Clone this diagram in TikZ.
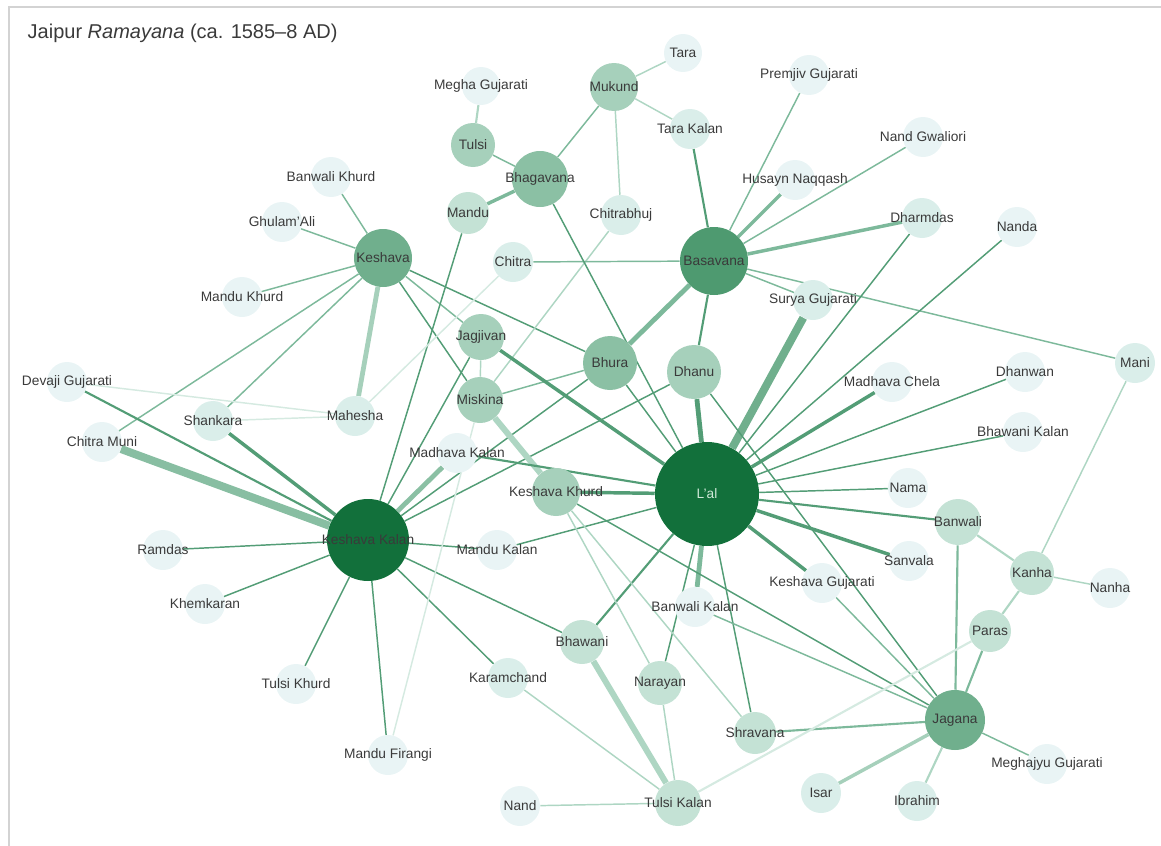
\documentclass[tikz,border=0pt]{standalone}
\usepackage{fontspec}
\setmainfont{Liberation Sans}
\usepackage{tikz}

\definecolor{g1}{HTML}{12703B}
\definecolor{g2}{HTML}{4E9A70}
\definecolor{g3}{HTML}{70AF8D}
\definecolor{g4}{HTML}{8BC0A4}
\definecolor{g5}{HTML}{A6D0BB}
\definecolor{g6}{HTML}{C4E2D5}
\definecolor{g7}{HTML}{DAEEEA}
\definecolor{g8}{HTML}{E9F4F5}
\definecolor{edk}{HTML}{539D76}
\definecolor{emd}{HTML}{7DB99B}
\definecolor{elt}{HTML}{AED6C3}
\definecolor{eft}{HTML}{D5EAE1}
\definecolor{lbl}{HTML}{3A3A3A}
\definecolor{lalt}{HTML}{CFE8D8}
\definecolor{frm}{HTML}{D3D3D3}

\newcommand{\lblfont}{\fontsize{10.3}{12}\selectfont}
\newcommand{\nm}[1]{\makebox[0pt]{#1}}

\pgfdeclarelayer{edges}
\pgfsetlayers{edges,main}

\begin{document}
\begin{tikzpicture}[x=0.75pt, y=-0.75pt,
	pers/.style={circle, inner sep=0pt, minimum size=#1*1.5pt, text=lbl, font=\lblfont},
	pers/.default=20,
	dk/.style={draw=edk, line width=1.1pt},
	md/.style={draw=emd, line width=1.1pt},
	lt/.style={draw=elt, line width=1.1pt},
	ft/.style={draw=eft, line width=1.1pt},
	w2/.style={line width=1.6pt},
	w3/.style={line width=2.6pt},
	w4/.style={line width=3.6pt},
	w6/.style={line width=6pt}]
	\useasboundingbox (0,0) rectangle (1161,846);
	\draw[frm, line width=1.5pt] (9,846) -- (9,7) -- (1161,7);
	\node[anchor=west, text=lbl, font=\fontsize{15}{18}\selectfont] (ttl) at (23,33) {Jaipur \textit{Ramayana} (ca. 1585--8 AD)};

	\node[pers=52, fill=g1, text=lalt] (lal) at (707,494) {\nm{L'al}};
	\node[pers=41, fill=g1] (kk) at (368,540) {\nm{Keshava Kalan}};
	\node[pers=34, fill=g2] (bas) at (714,261) {\nm{Basavana}};
	\node[pers=29, fill=g3] (kesh) at (383,258) {\nm{Keshava}};
	\node[pers=30, fill=g3] (jag) at (955,720) {\nm{Jagana}};
	\node[pers=28, fill=g4] (bhag) at (540,179) {\nm{Bhagavana}};
	\node[pers=27, fill=g4] (bhura) at (610,363) {\nm{Bhura}};
	\node[pers=27, fill=g5] (dhanu) at (694,372) {\nm{Dhanu}};
	\node[pers=23, fill=g5] (jagj) at (481,337) {\nm{Jagjivan}};
	\node[pers=23, fill=g5] (misk) at (480,400) {\nm{Miskina}};
	\node[pers=24, fill=g5] (mukund) at (614,87) {\nm{Mukund}};
	\node[pers=22, fill=g5] (tulsi) at (473,145) {\nm{Tulsi}};
	\node[pers=24, fill=g5] (kkh) at (556,492) {\nm{Keshava Khurd}};
	\node[pers=23, fill=g6] (banwali) at (958,522) {\nm{Banwali}};
	\node[pers=22, fill=g6] (kanha) at (1032,573) {\nm{Kanha}};
	\node[pers=22, fill=g6] (bhaw) at (582,642) {\nm{Bhawani}};
	\node[pers=23, fill=g6] (tk) at (678,803) {\nm{Tulsi Kalan}};
	\node[pers=22, fill=g6] (nar) at (660,683) {\nm{Narayan}};
	\node[pers=21, fill=g6] (mandu) at (468,213) {\nm{Mandu}};
	\node[pers=21, fill=g6] (paras) at (990,631) {\nm{Paras}};
	\node[pers=21, fill=g6] (shr) at (755,733) {\nm{Shravana}};

	\node[pers, fill=g7] (tarak) at (690,129) {\nm{Tara Kalan}};
	\node[pers, fill=g7] (chbhuj) at (621,215) {\nm{Chitrabhuj}};
	\node[pers, fill=g7] (chitra) at (513,262) {\nm{Chitra}};
	\node[pers, fill=g7] (mahesha) at (355,416) {\nm{Mahesha}};
	\node[pers, fill=g7] (shankara) at (213,421) {\nm{Shankara}};
	\node[pers, fill=g7] (surya) at (813,300) {\nm{Surya Gujarati}};
	\node[pers, fill=g7] (dharm) at (922,218) {\nm{Dharmdas}};
	\node[pers, fill=g7] (isar) at (821,793) {\nm{Isar}};
	\node[pers, fill=g7] (karam) at (508,678) {\nm{Karamchand}};
	\node[pers, fill=g7] (ibrahim) at (917,801) {\nm{Ibrahim}};
	\node[pers, fill=g7] (mani) at (1135,363) {\nm{Mani}};
	\node[pers, fill=g8] (bkal) at (695,607) {\nm{Banwali Kalan}};

	\node[pers, fill=g8] (madk) at (457,453) {\nm{Madhava Kalan}};
	\node[pers, fill=g8] (mkalan) at (497,550) {\nm{Mandu Kalan}};
	\node[pers=19, fill=g8] (tara) at (683,53) {\nm{Tara}};
	\node[pers=19, fill=g8] (megha) at (481,86) {\nm{Megha Gujarati}};
	\node[pers, fill=g8] (premjiv) at (809,75) {\nm{Premjiv Gujarati}};
	\node[pers, fill=g8] (nandg) at (923,137) {\nm{Nand Gwaliori}};
	\node[pers, fill=g8] (husayn) at (795,180) {\nm{Husayn Naqqash}};
	\node[pers, fill=g8] (nanda) at (1017,227) {\nm{Nanda}};
	\node[pers, fill=g8] (mchela) at (892,382) {\nm{Madhava Chela}};
	\node[pers, fill=g8] (dhanwan) at (1025,372) {\nm{Dhanwan}};
	\node[pers, fill=g8] (bkalan) at (1023,432) {\nm{Bhawani Kalan}};
	\node[pers, fill=g8] (nama) at (908,488) {\nm{Nama}};
	\node[pers, fill=g8] (sanvala) at (909,561) {\nm{Sanvala}};
	\node[pers, fill=g8] (kguj) at (822,583) {\nm{Keshava Gujarati}};
	\node[pers, fill=g8] (nanha) at (1110,588) {\nm{Nanha}};
	\node[pers, fill=g8] (meghaj) at (1047,764) {\nm{Meghajyu Gujarati}};
	\node[pers, fill=g8] (nand) at (520,806) {\nm{Nand}};
	\node[pers, fill=g8] (mfir) at (388,755) {\nm{Mandu Firangi}};
	\node[pers, fill=g8] (tkhurd) at (296,684) {\nm{Tulsi Khurd}};
	\node[pers, fill=g8] (khem) at (205,604) {\nm{Khemkaran}};
	\node[pers, fill=g8] (ramdas) at (163,550) {\nm{Ramdas}};
	\node[pers, fill=g8] (cmuni) at (102,442) {\nm{Chitra Muni}};
	\node[pers, fill=g8] (devaji) at (67,382) {\nm{Devaji Gujarati}};
	\node[pers, fill=g8] (mkhurd) at (242,297) {\nm{Mandu Khurd}};
	\node[pers, fill=g8] (ghulam) at (282,222) {\nm{Ghulam'Ali}};
	\node[pers, fill=g8] (bkhurd) at (331,177) {\nm{Banwali Khurd}};

	\begin{pgfonlayer}{edges}
		\draw[md] (kesh) -- (bkhurd) (kesh) -- (ghulam) (kesh) -- (mkhurd) (kesh) -- (cmuni) (kesh) -- (shankara) (kesh) -- (jagj);
		\draw[lt, w4, draw=g5] (kesh) -- (mahesha);
		\draw[dk] (kesh) -- (misk) (kesh) -- (bhura);

		\draw[md, w6, draw=g4!90!g3] (kk) -- (cmuni);
		\draw[md, w4, draw=g4] (kk) -- (madk);
		\draw[dk, w2] (kk) -- (devaji);
		\draw[dk, w3] (kk) -- (shankara);
		\draw[dk] (kk) -- (ramdas) (kk) -- (khem) (kk) -- (tkhurd) (kk) -- (mfir) (kk) -- (karam) (kk) -- (bhaw)
			(kk) -- (mkalan) (kk) -- (mandu) (kk) -- (jagj) (kk) -- (bhura) (kk) -- (dhanu);

		\draw[lt] (misk) -- (jagj) (misk) -- (chbhuj);
		\draw[ft] (misk) -- (mfir) (chitra) -- (mahesha) (devaji) -- (mahesha) (shankara) -- (mahesha);
		\draw[md] (misk) -- (bhura) (chitra) -- (bas);
		\draw[lt, w4, line width=4.5pt] (misk) -- (kkh);

		\draw[md, w3] (mandu) -- (bhag);
		\draw[md] (tulsi) -- (bhag) (bhag) -- (mukund);
		\draw[lt, w2] (tulsi) -- (megha);
		\draw[lt] (mukund) -- (tara) (mukund) -- (tarak) (mukund) -- (chbhuj);
		\draw[dk, w2] (tarak) -- (bas);

		\draw[md] (bas) -- (premjiv) (bas) -- (nandg) (bas) -- (surya) (bas) -- (mani);
		\draw[md, w3] (bas) -- (husayn) (bas) -- (dharm);
		\draw[md, w4] (bas) -- (bhura);
		\draw[dk, w2] (bas) -- (dhanu);

		\draw[md, w6, draw=g3] (lal) -- (surya);
		\draw[dk, w4] (lal) -- (dhanu);
		\draw[dk, w3] (lal) -- (jagj) (lal) -- (kkh) (lal) -- (mchela) (lal) -- (sanvala) (lal) -- (kguj);
		\draw[dk, w2] (lal) -- (banwali) (lal) -- (bhaw) (lal) -- (madk);
		\draw[md, w4] (lal) -- (bkal);
		\draw[dk] (lal) -- (bhura) (lal) -- (bhag) (lal) -- (mkalan) (lal) -- (dharm) (lal) -- (nanda)
			(lal) -- (dhanwan) (lal) -- (bkalan) (lal) -- (nama) (lal) -- (nar) (lal) -- (shr);

		\draw[dk] (dhanu) -- (jag) (kkh) -- (jag);
		\draw[lt] (kkh) -- (nar) (kkh) -- (shr);
		\draw[md] (bkal) -- (jag) (kguj) -- (jag) (meghaj) -- (jag);
		\draw[md, w2] (banwali) -- (jag) (paras) -- (jag) (shr) -- (jag);
		\draw[md, w3, draw=g5] (isar) -- (jag);
		\draw[lt, w2] (ibrahim) -- (jag) (banwali) -- (kanha) (kanha) -- (paras);
		\draw[lt] (kanha) -- (nanha) (kanha) -- (mani);
		\draw[ft, w2] (paras) -- (tk);

		\draw[lt, w4, line width=4.5pt] (bhaw) -- (tk);
		\draw[lt] (karam) -- (tk) (nar) -- (tk) (nand) -- (tk);
	\end{pgfonlayer}
\end{tikzpicture}
\end{document}
